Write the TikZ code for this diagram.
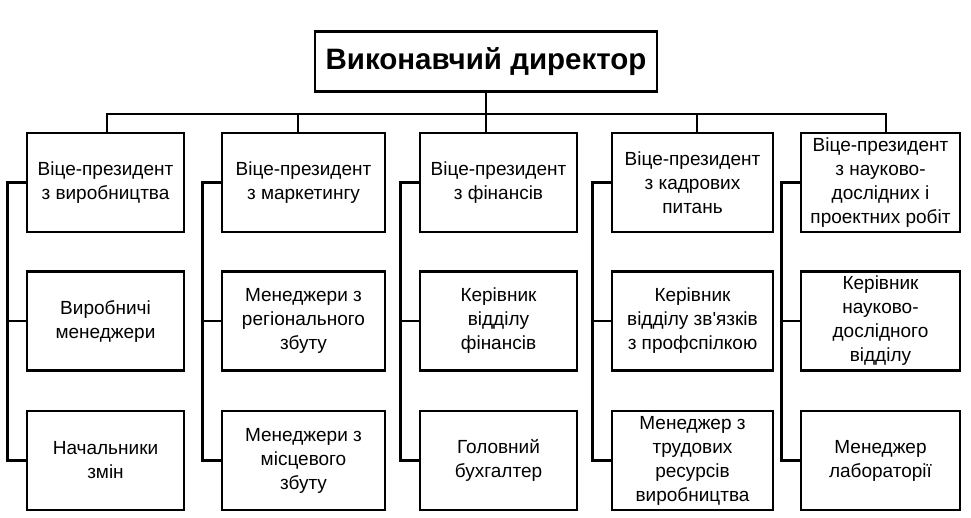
\documentclass[tikz,border=0pt]{standalone}
\usepackage{fontspec}
\setmainfont{Liberation Sans}[Ligatures=TeXOff]
\begin{document}
\begin{tikzpicture}[x=1pt,y=-1pt,
  box/.style={draw,line width=2.8pt,minimum height=99pt,align=center,
    font=\fontsize{19}{24}\selectfont,inner sep=2pt},
  ln/.style={line width=2.8pt}]
\useasboundingbox[fill=white] (0,0) rectangle (971,517);
\node[draw,line width=2.8pt,minimum width=342pt,minimum height=60pt,
  font=\fontsize{29.5}{32}\selectfont\bfseries] (top) at (486,61.5) {Виконавчий директор};
% level 1
\node[box,minimum width=157pt] (b1) at (105.5,182.5) {Віце-президент\\з виробництва};
\node[box,minimum width=163pt] (b2) at (303.5,182.5) {Віце-президент\\з маркетингу};
\node[box,minimum width=157pt] (b3) at (498.5,182.5) {Віце-президент\\з фінансів};
\node[box,minimum width=161pt] (b4) at (692.5,182.5) {Віце-президент\\з кадрових\\питань};
\node[box,minimum width=159pt] (b5) at (880.5,182.5) {Віце-президент\\з науково-\\дослідних і\\проектних робіт};
% level 2
\node[box,minimum width=157pt] (c1) at (105.5,321) {Виробничі\\менеджери};
\node[box,minimum width=163pt] (c2) at (303.5,321) {Менеджери з\\регіонального\\збуту};
\node[box,minimum width=157pt] (c3) at (498.5,321) {Керівник\\відділу\\фінансів};
\node[box,minimum width=161pt] (c4) at (692.5,321) {Керівник\\відділу зв'язків\\з профспілкою};
\node[box,minimum width=159pt] (c5) at (880.5,321) {Керівник\\науково-\\дослідного\\відділу};
% level 3
\node[box,minimum width=157pt] (d1) at (105.5,460.5) {Начальники\\змін};
\node[box,minimum width=163pt] (d2) at (303.5,460.5) {Менеджери з\\місцевого\\збуту};
\node[box,minimum width=157pt] (d3) at (498.5,460.5) {Головний\\бухгалтер};
\node[box,minimum width=161pt] (d4) at (692.5,460.5) {Менеджер з\\трудових\\ресурсів\\виробництва};
\node[box,minimum width=159pt] (d5) at (880.5,460.5) {Менеджер\\лабораторії};
% bus
\coordinate (k1) at (107,114);
\coordinate (k2) at (298,114);
\coordinate (k4) at (697,114);
\coordinate (k5) at (886,114);
\draw[ln] (k1 |- b1.north) -- (k1) -- (k5) -- (k5 |- b5.north);
\draw[ln] (k2) -- (k2 |- b2.north);
\draw[ln] (k4) -- (k4 |- b4.north);
\draw[ln] (top.south) -- (top.south |- b3.north);
% side connectors
\foreach \i in {1,...,5}{
  \draw[ln] (b\i.west) -- ++(-18,0) |- (d\i.west);
  \draw[ln] (c\i.west) -- ++(-18,0);
}
\end{tikzpicture}
\end{document}
